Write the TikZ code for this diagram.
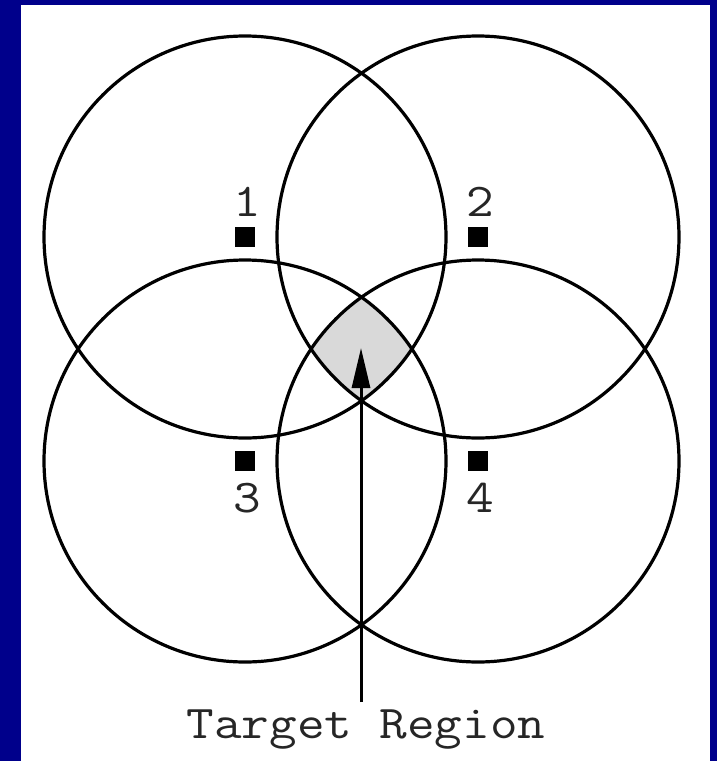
\documentclass[tikz,border=0pt]{standalone}
\usepackage{graphicx}
\usetikzlibrary{arrows.meta}
\definecolor{navyframe}{RGB}{0,0,139}
\definecolor{regiongray}{RGB}{217,217,217}
\newcommand{\widetxt}[1]{\scalebox{1.14}[1]{#1}}
\begin{document}
\begin{tikzpicture}[x=1pt,y=-1pt,
  ring/.style={draw=black,line width=3.2pt},
  sensor/.style={fill=black,draw=none,minimum size=20pt,inner sep=0pt,outer sep=0pt},
  lbl/.style={font=\ttfamily\fontsize{47}{50}\selectfont,text=black!85,anchor=base,inner sep=0pt},
  pointer/.style={line width=3pt,-{Triangle[length=40pt,width=18pt]}}]
\useasboundingbox (0,0) rectangle (717,761);
\fill[navyframe] (0,0) rectangle (717,761);
\fill[white] (21,5) rectangle (710,761);
% target region
\begin{scope}
  \clip (245,237) circle (201pt);
  \clip (478,237) circle (201pt);
  \clip (245,461) circle (201pt);
  \fill[regiongray] (478,461) circle (201pt);
\end{scope}
% circles
\draw[ring] (245,237) circle (201pt);
\draw[ring] (478,237) circle (201pt);
\draw[ring] (245,461) circle (201pt);
\draw[ring] (478,461) circle (201pt);
% sensors
\node[sensor] (s1) at (245,237) {};
\node[sensor] (s2) at (478,237) {};
\node[sensor] (s3) at (245,461) {};
\node[sensor] (s4) at (478,461) {};
\node[lbl] (l1) at (247,216) {\widetxt{1}};
\node[lbl] (l2) at (480,216) {\widetxt{2}};
\node[lbl] (l3) at (247,512) {\widetxt{3}};
\node[lbl] (l4) at (480,512) {\widetxt{4}};
% label and arrow
\node[lbl] (target) at (366,738) {\widetxt{Target Region}};
\coordinate (tail) at (361,702);
\coordinate (tip) at (361,348);
\draw[pointer] (tail) -- (tip);
\end{tikzpicture}
\end{document}
